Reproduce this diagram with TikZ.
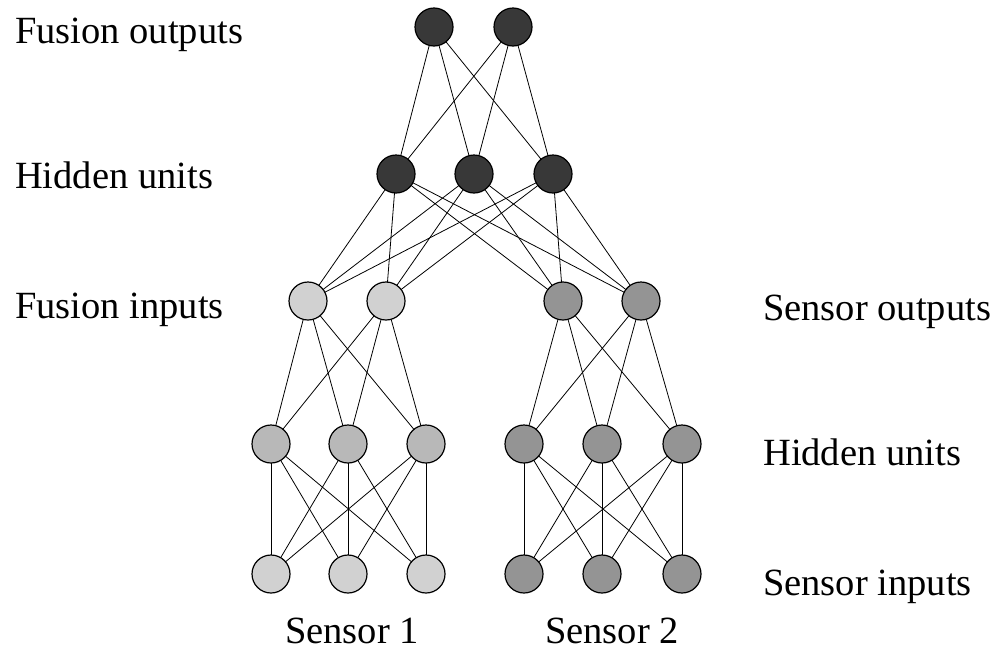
\documentclass[tikz,border=0pt]{standalone}
\usepackage{fontspec}
\setmainfont{Liberation Serif}
\usepackage{tikz}
\usetikzlibrary{positioning}
\tikzstyle{unit}=[draw, circle, line width=1.2pt, minimum size=38pt, inner sep=0, outer sep=0]
\tikzstyle{fusion}=[unit, fill=black!78]
\tikzstyle{sone}=[unit, fill=black!18]
\tikzstyle{sonehid}=[unit, fill=black!28]
\tikzstyle{stwo}=[unit, fill=black!42]
\tikzstyle{lbl}=[anchor=base west, inner sep=0]
\tikzstyle{link}=[line width=0.8pt]

\begin{document}
\begin{tikzpicture}[x=1pt,y=-1pt,font=\fontsize{38.5}{46}\selectfont]
                    \useasboundingbox (0,0) rectangle (1006,659);

                    % fusion network
                    \node [fusion] (fo1) at (434,27) {};
                    \node [fusion] (fo2) at (513,27) {};
                    \node [fusion] (fh1) at (396,174) {};
                    \node [fusion] (fh2) at (474,174) {};
                    \node [fusion] (fh3) at (553,174) {};

                    % sensor 1
                    \node [sone] (ao1) at (308,301) {};
                    \node [sone] (ao2) at (386,301) {};
                    \node [sonehid] (ah1) at (271,444) {};
                    \node [sonehid] (ah2) at (348,444) {};
                    \node [sonehid] (ah3) at (426,444) {};
                    \node [sone] (ai1) at (271,574) {};
                    \node [sone] (ai2) at (348,574) {};
                    \node [sone] (ai3) at (426,574) {};

                    % sensor 2
                    \node [stwo] (bo1) at (563,301) {};
                    \node [stwo] (bo2) at (641,301) {};
                    \node [stwo] (bh1) at (524,444) {};
                    \node [stwo] (bh2) at (602,444) {};
                    \node [stwo] (bh3) at (682,444) {};
                    \node [stwo] (bi1) at (524,574) {};
                    \node [stwo] (bi2) at (602,574) {};
                    \node [stwo] (bi3) at (682,574) {};

                    % labels
                    \node [lbl] (l1) at (15,43) {Fusion outputs};
                    \node [lbl] (l2) at (15,188) {Hidden units};
                    \node [lbl] (l3) at (15,318) {Fusion inputs};
                    \node [lbl] (l4) at (763,320) {Sensor outputs};
                    \node [lbl] (l5) at (763,465) {Hidden units};
                    \node [lbl] (l6) at (763,595) {Sensor inputs};
                    \node [lbl] (s1) at (285,643) {Sensor 1};
                    \node [lbl] (s2) at (545,643) {Sensor 2};

                    \draw [link] (fo1) edge (fh1) edge (fh2) edge (fh3)
                                 (fo2) edge (fh1) edge (fh2) edge (fh3);
                    \draw [link] (fh1) edge (ao1) edge (ao2) edge (bo1) edge (bo2)
                                 (fh2) edge (ao1) edge (ao2) edge (bo1) edge (bo2)
                                 (fh3) edge (ao1) edge (ao2) edge (bo1) edge (bo2);
                    \draw [link] (ao1) edge (ah1) edge (ah2) edge (ah3)
                                 (ao2) edge (ah1) edge (ah2) edge (ah3);
                    \draw [link] (ah1) edge (ai1) edge (ai2) edge (ai3)
                                 (ah2) edge (ai1) edge (ai2) edge (ai3)
                                 (ah3) edge (ai1) edge (ai2) edge (ai3);
                    \draw [link] (bo1) edge (bh1) edge (bh2) edge (bh3)
                                 (bo2) edge (bh1) edge (bh2) edge (bh3);
                    \draw [link] (bh1) edge (bi1) edge (bi2) edge (bi3)
                                 (bh2) edge (bi1) edge (bi2) edge (bi3)
                                 (bh3) edge (bi1) edge (bi2) edge (bi3);
\end{tikzpicture}
\end{document}
